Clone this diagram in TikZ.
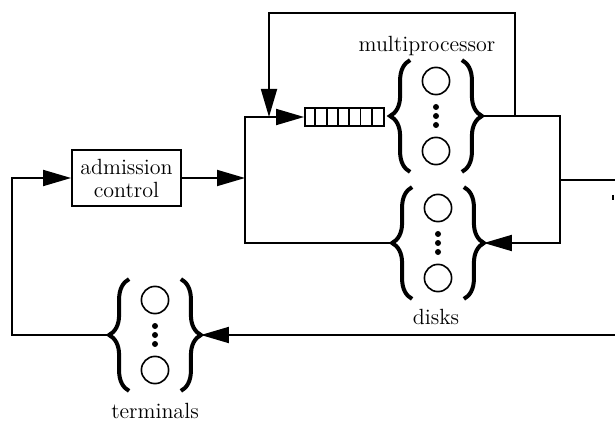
\documentclass[tikz,border=0pt]{standalone}
\usepackage{tikz}
\usetikzlibrary{arrows.meta}
\usetikzlibrary{decorations.pathreplacing}

\begin{document}
\begin{tikzpicture}
  [x=0.5pt,y=-0.5pt,line width=0.9pt,
   font=\fontsize{11}{11.5}\selectfont,
   arr/.style={-{Triangle[length=14pt,width=8pt]}},
   station/.style={rectangle,inner sep=0pt,minimum width=45pt,minimum height=55pt},
   brc/.style={decorate,decoration={brace,amplitude=10pt},line width=2pt},
   box/.style={draw,rectangle,align=center,inner sep=0pt,minimum width=54.5pt,minimum height=28pt}]
  \useasboundingbox (0,0) rectangle (615,422);

  \node[box] (adm) at (126.5,178) {admission\\control};
  \node[draw,rectangle,inner sep=0pt,minimum width=39.5pt,minimum height=9pt] (queue) at (344.5,117) {};
  \node[station] (mp) at (436,116) {};
  \node[station] (dk) at (438,243) {};
  \node[station] (term) at (155,335) {};

  \node (mplab) at (427,46) {multiprocessor};
  \node (dklab) at (436,317) {disks};
  \node (termlab) at (155,411) {terminals};

  % queue slots
  \foreach \i in {1,...,6}
    \draw ([xshift=\i*5.64pt]queue.south west) -- ([xshift=\i*5.64pt]queue.north west);

  % braces, servers and dots of each station
  \foreach \s in {mp,dk,term} {
    \draw[brc] ([xshift=10pt]\s.south west) -- ([xshift=10pt]\s.north west);
    \draw[brc] ([xshift=-10pt]\s.north east) -- ([xshift=-10pt]\s.south east);
    \draw[line width=0.8pt] ([yshift=17.5pt]\s.center) circle (6.8pt);
    \draw[line width=0.8pt] ([yshift=-17.5pt]\s.center) circle (6.8pt);
    \foreach \d in {-4.5pt,0pt,4.5pt}
      \fill ([yshift=\d]\s.center) circle (1.5pt);
  }

  \coordinate (lft) at (12,250);
  \coordinate (split) at (245,178);
  \coordinate (rgt) at (560,180);
  \coordinate (fbr) at (515,13);
  \coordinate (fbl) at (269,13);
  \coordinate (outr) at (615,180);
  \coordinate (inr) at (615,335);

  \draw[arr] (term.west) -| (lft) |- (adm.west);
  \draw[arr] (adm.east) -- (split);
  \draw[arr] (dk.west) -| (split) |- (queue.west);
  \draw[arr] (mp.east) -| (rgt) |- (dk.east);
  \draw[arr] (mp.east -| fbr) -- (fbr) -- (fbl) -- (fbl |- queue.west);
  \draw (rgt) -- (outr);
  \draw[arr] (inr) -- (term.east);
  \draw (613,195) -- (613,200);

\end{tikzpicture}
\end{document}
